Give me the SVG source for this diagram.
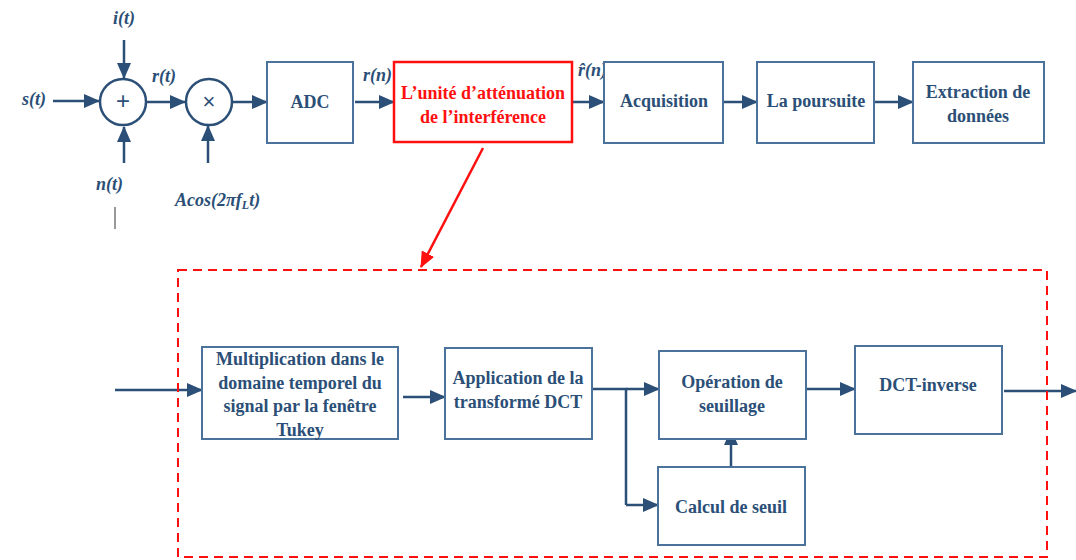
<svg xmlns="http://www.w3.org/2000/svg" width="1076" height="560" viewBox="0 0 1076 560">
<style>
.bx{fill:#fff;stroke:#4a729a;stroke-width:2}
.t{font-weight:bold;font-size:18px;fill:#2b4f77;text-anchor:middle}
.lb{font-weight:bold;font-style:italic;font-size:18px;fill:#2b4f77}
.c{fill:#2b4f77;stroke:#2b4f77;stroke-width:2.5;marker-end:url(#ah)}
.ln{fill:none;stroke:#2b4f77;stroke-width:2.5}
.cr{fill:#fff;stroke:#2b4f77;stroke-width:2.5}
</style>
<defs>
<marker id="ah" markerUnits="userSpaceOnUse" markerWidth="16" markerHeight="14" refX="15" refY="7" orient="auto"><path d="M0,0 L16,7 L0,14 Z" fill="#2b4f77"/></marker>
<marker id="ahr" markerUnits="userSpaceOnUse" markerWidth="16" markerHeight="14" refX="15" refY="7" orient="auto"><path d="M0,0 L16,7 L0,14 Z" fill="#ff1010"/></marker>
</defs>
<rect width="1076" height="560" fill="#fff"/>
<g id="connectors">
<line class="c" x1="53" y1="101" x2="99" y2="101"/>
<line class="c" x1="124" y1="40" x2="124" y2="78"/>
<line class="c" x1="124" y1="163" x2="124" y2="127"/>
<line class="c" x1="147" y1="102" x2="185" y2="102"/>
<line class="c" x1="208" y1="163" x2="208" y2="126"/>
<line class="c" x1="232" y1="102" x2="267" y2="102"/>
<line class="c" x1="355" y1="102" x2="394" y2="102"/>
<line class="c" x1="573" y1="102" x2="604" y2="102"/>
<line class="c" x1="724" y1="102" x2="757" y2="102"/>
<line class="c" x1="875" y1="102" x2="913" y2="102"/>
<line x1="483" y1="148" x2="421" y2="267" stroke="#ff1010" stroke-width="2.5" marker-end="url(#ahr)"/>
<line class="c" x1="115" y1="390" x2="202" y2="390"/>
<line class="c" x1="403" y1="397" x2="445" y2="397"/>
<polyline class="ln" points="593,389 626,389 626,505"/>
<line class="c" x1="626" y1="389" x2="659" y2="389"/>
<line class="c" x1="626" y1="505" x2="658" y2="505"/>
<line class="c" x1="731" y1="467" x2="731" y2="430"/>
<line class="c" x1="807" y1="389" x2="855" y2="389"/>
<line class="c" x1="1004" y1="391" x2="1076" y2="391"/>
<line x1="115" y1="207" x2="115" y2="229" stroke="#555" stroke-width="1.2"/>
</g>
<g id="labels" font-family="'Liberation Serif', Tinos, 'DejaVu Serif', serif">
<text class="lb" x="22" y="105">s(t)</text>
<text class="lb" x="113" y="24">i(t)</text>
<text class="lb" x="96" y="190">n(t)</text>
<text class="lb" x="152" y="82">r(t)</text>
<text class="lb" x="175" y="206">Acos(2πf<tspan font-size="12" dy="3">L</tspan><tspan dy="-3">t)</tspan></text>
<text class="lb" x="363" y="81">r(n)</text>
<text class="lb" x="578" y="76">r̂(n)</text>
</g>
<g id="sum"><circle class="cr" cx="123" cy="102" r="23"/><text x="123" y="109" font-family="'Liberation Sans', sans-serif" font-size="24" fill="#2b4f77" text-anchor="middle">+</text></g>
<g id="mult"><circle class="cr" cx="209" cy="102" r="23"/><text x="209" y="109" font-family="'Liberation Sans', sans-serif" font-size="22" fill="#2b4f77" text-anchor="middle">×</text></g>
<g id="nodes" font-family="'Liberation Serif', Tinos, 'DejaVu Serif', serif">
<g id="adc"><rect class="bx" x="267" y="62" width="86" height="81"/><text class="t" x="310" y="108">ADC</text></g>
<g id="unite"><rect x="394" y="62" width="178" height="80" fill="#fff" stroke="#ff1010" stroke-width="2.5"/><text class="t" x="483" y="99" style="fill:#ff1010">L’unité d’atténuation</text><text class="t" x="483" y="123" style="fill:#ff1010">de l’interférence</text></g>
<g id="acq"><rect class="bx" x="604" y="62" width="119" height="81"/><text class="t" x="664" y="107">Acquisition</text></g>
<g id="pours"><rect class="bx" x="757" y="62" width="117" height="81"/><text class="t" x="816" y="107">La poursuite</text></g>
<g id="extr"><rect class="bx" x="913" y="62" width="131" height="81"/><text class="t" x="978" y="98">Extraction de</text><text class="t" x="978" y="122">données</text></g>
<g id="zone"><rect x="178" y="270" width="869" height="287" fill="none" stroke="#ff1010" stroke-width="2" stroke-dasharray="9,6"/></g>
<g id="multi"><rect class="bx" x="202" y="347" width="196" height="92"/><text class="t" x="300" y="365">Multiplication dans le</text><text class="t" x="300" y="389">domaine temporel du</text><text class="t" x="300" y="412">signal par la fenêtre</text><text class="t" x="300" y="436">Tukey</text></g>
<g id="appl"><rect class="bx" x="445" y="348" width="147" height="91"/><text class="t" x="518" y="384">Application de la</text><text class="t" x="518" y="408">transformé DCT</text></g>
<g id="oper"><rect class="bx" x="659" y="351" width="147" height="88"/><text class="t" x="732" y="388">Opération de</text><text class="t" x="732" y="412">seuillage</text></g>
<g id="calc"><rect class="bx" x="658" y="467" width="147" height="78"/><text class="t" x="731" y="513">Calcul de seuil</text></g>
<g id="dcti"><rect class="bx" x="855" y="346" width="147" height="88"/><text class="t" x="928" y="391">DCT-inverse</text></g>
</g>
</svg>
